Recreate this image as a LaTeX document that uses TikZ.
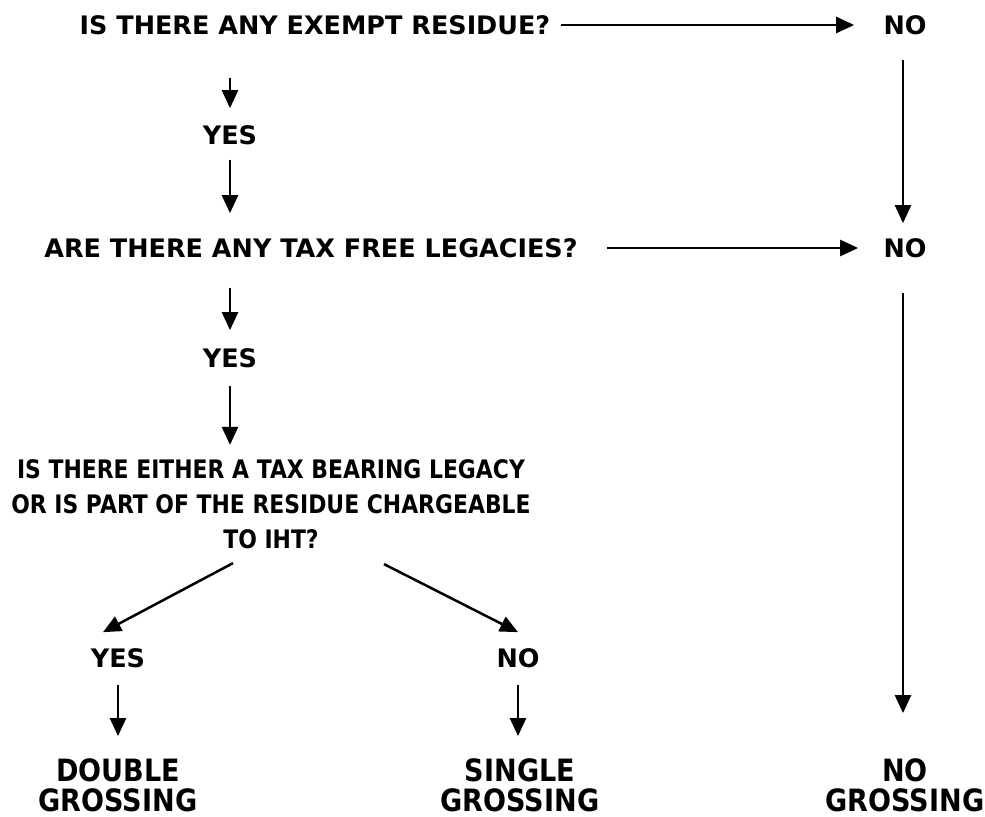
\documentclass[tikz,border=0pt]{standalone}
\usepackage{fontspec}
\setmainfont{DejaVu Sans}
\newfontfamily\narrowfont[FakeStretch=0.86]{DejaVu Sans}
\newfontfamily\tallfont[FakeStretch=0.88]{DejaVu Sans}
\usetikzlibrary{
	arrows.meta,
	positioning,
	calc
}

\tikzset{
	lbl/.style={inner sep=0pt, text height=0.38cm, text depth=0pt,
		font=\bfseries\fontsize{14.5}{20}\selectfont},
	endlbl/.style={inner sep=0pt, align=center,
		font=\tallfont\bfseries\fontsize{17.5}{17}\selectfont},
	arr/.style={-{Triangle[length=0.36cm,width=0.32cm]}, line width=0.05cm}
}

\begin{document}
\begin{tikzpicture}[x=0.02cm,y=-0.02cm]
		
		\useasboundingbox (0,0) rectangle (985,817);
		
		% questions and answers
		\node[lbl] (q1) at (315,25) {IS THERE ANY EXEMPT RESIDUE?};
		\node[lbl] (no1) at (905,25) {NO};
		\node[lbl] (yes1) at (230,135) {YES};
		\node[lbl] (q2) at (311,248) {ARE THERE ANY TAX FREE LEGACIES?};
		\node[lbl] (no2) at (905,248) {NO};
		\node[lbl] (yes2) at (230,358) {YES};
		\node[lbl, align=center, text height=, text depth=,
		font=\narrowfont\bfseries\fontsize{14.5}{20}\selectfont] (q3) at (271,504)
		{IS THERE EITHER A TAX BEARING LEGACY\\
		 OR IS PART OF THE RESIDUE CHARGEABLE\\
		 TO IHT?};
		\node[lbl] (yes3) at (118,658) {YES};
		\node[lbl] (no3) at (518,658) {NO};
		\node[endlbl] (dbl) at (118,785) {DOUBLE\\GROSSING};
		\node[endlbl] (sgl) at (520,785) {SINGLE\\GROSSING};
		\node[endlbl] (nog) at (905,785) {NO\\GROSSING};
		
		% connectors
		\draw[arr, shorten <=0.2cm, shorten >=0.58cm] (q1.east) -- (no1.west);
		\draw[arr, shorten <=0.86cm, shorten >=0.34cm] (q1.south -| yes1.north) -- (yes1.north);
		\draw[arr, shorten <=0.3cm, shorten >=0.5cm] (yes1.south) -- (q2.north -| yes1.south);
		\draw[arr, shorten <=0.58cm, shorten >=0.5cm] (q2.east) -- (no2.west);
		\draw[arr, shorten <=0.5cm, shorten >=0.3cm] ($(no1.south)+(-2,0)$) -- ($(no2.north)+(-2,0)$);
		\draw[arr, shorten <=0.6cm, shorten >=0.36cm] (q2.south -| yes2.north) -- (yes2.north);
		\draw[arr, shorten <=0.36cm, shorten >=0.28cm] (yes2.south) -- (q3.north -| yes2.south);
		\draw[arr] ($(q3.south)+(-38,14)$) -- ($(yes3.north)+(-15,-16)$);
		\draw[arr] ($(q3.south)+(113,15)$) -- ($(no3.north)+(0,-16)$);
		\draw[arr, shorten <=0.34cm, shorten >=0.44cm] (yes3.south) -- (dbl.north);
		\draw[arr, shorten <=0.34cm, shorten >=0.44cm] (no3.south) -- (sgl.north -| no3.south);
		\draw[arr, shorten <=0.7cm, shorten >=0.9cm] ($(no2.south)+(-2,0)$) -- ($(nog.north)+(-2,0)$);
		
	\end{tikzpicture}
\end{document}
